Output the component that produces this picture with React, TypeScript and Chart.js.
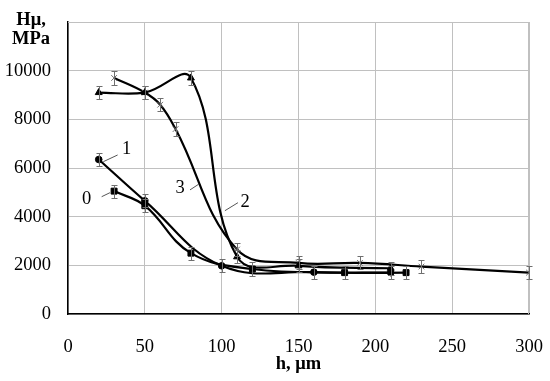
import React, { useEffect, useRef } from 'react';
import { Chart, registerables } from 'chart.js';

Chart.register(...registerables);

// Curve 0 (squares)
const h0 = [30, 50, 80, 120, 180, 220];
const hv0 = [5050, 4450, 2500, 1850, 1700, 1700];
const err0 = [270, 270, 270, 270, 270, 270];
// Curve 1 (circles)
const h1 = [20, 50, 100, 160, 210];
const hv1 = [6350, 4650, 1980, 1720, 1700];
const err1 = [270, 270, 270, 270, 270];
// Curve 2 (triangles)
const h2 = [20, 50, 80, 110, 150, 210];
const hv2 = [9100, 9100, 9700, 2350, 1980, 1880];
const err2 = [270, 270, 270, 270, 270, 270];
// Curve 3 (crosses)
const h3 = [30, 50, 60, 70, 110, 150, 190, 230, 300];
const hv3 = [9700, 9100, 8600, 7600, 2650, 2100, 2100, 1950, 1700];
const err3 = [270, 270, 270, 270, 270, 270, 270, 270, 270];

const xTicks = [0, 50, 100, 150, 200, 250, 300];
const yTicks = [0, 2000, 4000, 6000, 8000, 10000];
const xMax = 300;
const yMax = 12000;

const yTitleLines = ['Hμ,', 'MPa'];
const xTitle = 'h, μm';

// curve number labels with leader lines (in data units)
const curveNotes = [
  { text: '0', x: 12.2, y: 4715, x1: 21.9, y1: 4820, x2: 27.3, y2: 4985 },
  { text: '1', x: 38.2, y: 6780, x1: 23.0, y1: 6260, x2: 32.3, y2: 6535 },
  { text: '2', x: 115.2, y: 4615, x1: 102.1, y1: 4245, x2: 110.6, y2: 4575 },
  { text: '3', x: 72.9, y: 5180, x1: 79.4, y1: 5100, x2: 85.2, y2: 5340 },
];

const FONT = '"Liberation Serif", "Times New Roman", serif';

const pts = (xs: number[], ys: number[]) => xs.map((x, i) => ({ x, y: ys[i] }));
const errorSets = [err0, err1, err2, err3];

const framePlugin = {
  id: 'frame',
  beforeDatasetsDraw(chart: any) {
    const ctx = chart.ctx;
    const a = chart.chartArea;
    ctx.save();
    ctx.strokeStyle = '#c0c0c0';
    ctx.lineWidth = 1;
    ctx.beginPath();
    ctx.moveTo(a.left, Math.round(a.top) + 0.5);
    ctx.lineTo(a.right, Math.round(a.top) + 0.5);
    ctx.moveTo(Math.round(a.right) - 0.5, a.top);
    ctx.lineTo(Math.round(a.right) - 0.5, a.bottom);
    ctx.stroke();
    ctx.restore();
  },
};

const errorBarPlugin = {
  id: 'errorBars',
  afterDatasetsDraw(chart: any) {
    const ctx = chart.ctx;
    const xs = chart.scales.x;
    const ys = chart.scales.y;
    ctx.save();
    ctx.strokeStyle = '#6f6f6f';
    ctx.lineWidth = 1;
    chart.data.datasets.forEach((ds: any, di: number) => {
      const errs = errorSets[di];
      ds.data.forEach((p: any, i: number) => {
        const e = errs[i];
        const px = Math.round(xs.getPixelForValue(p.x)) + 0.5;
        const yt = Math.round(ys.getPixelForValue(p.y + e)) + 0.5;
        const yb = Math.round(ys.getPixelForValue(p.y - e)) + 0.5;
        ctx.beginPath();
        ctx.moveTo(px, yt);
        ctx.lineTo(px, yb);
        ctx.moveTo(px - 3, yt);
        ctx.lineTo(px + 3, yt);
        ctx.moveTo(px - 3, yb);
        ctx.lineTo(px + 3, yb);
        ctx.stroke();
      });
    });
    ctx.restore();
  },
};

const textPlugin = {
  id: 'texts',
  afterDraw(chart: any) {
    const ctx = chart.ctx;
    const xs = chart.scales.x;
    const ys = chart.scales.y;
    const area = chart.chartArea;
    ctx.save();
    ctx.fillStyle = '#000';
    ctx.font = `bold 18.5px ${FONT}`;
    ctx.textAlign = 'center';
    ctx.textBaseline = 'alphabetic';
    ctx.fillText(yTitleLines[0], 31, 25);
    ctx.fillText(yTitleLines[1], 31, 44);
    ctx.fillText(xTitle, (area.left + area.right) / 2, 369);
    ctx.font = `18.5px ${FONT}`;
    ctx.textBaseline = 'middle';
    ctx.strokeStyle = '#555';
    ctx.lineWidth = 1;
    curveNotes.forEach((n) => {
      ctx.fillText(n.text, xs.getPixelForValue(n.x), ys.getPixelForValue(n.y));
      ctx.beginPath();
      ctx.moveTo(xs.getPixelForValue(n.x1), ys.getPixelForValue(n.y1));
      ctx.lineTo(xs.getPixelForValue(n.x2), ys.getPixelForValue(n.y2));
      ctx.stroke();
    });
    ctx.restore();
  },
};

export default function App() {
  const ref = useRef<HTMLCanvasElement | null>(null);
  useEffect(() => {
    if (!ref.current) return;
    const common = {
      showLine: true,
      borderColor: '#000',
      borderWidth: 2.2,
      tension: 0.4,
      pointBackgroundColor: '#000',
      pointBorderColor: '#000',
      pointBorderWidth: 1,
      fill: false,
    };
    const chart = new Chart(ref.current, {
      type: 'scatter',
      data: {
        datasets: [
          { ...common, label: '0', data: pts(h0, hv0), pointStyle: 'rect', pointRadius: 4.2 },
          { ...common, label: '1', data: pts(h1, hv1), pointStyle: 'circle', pointRadius: 3.3 },
          { ...common, label: '2', data: pts(h2, hv2), pointStyle: 'triangle', pointRadius: 4 },
          {
            ...common,
            label: '3',
            data: pts(h3, hv3),
            pointStyle: 'crossRot',
            pointRadius: 4,
            pointBorderColor: '#6f6f6f',
            pointBackgroundColor: '#6f6f6f',
            pointBorderWidth: 1,
          },
        ] as any,
      },
      options: {
        animation: false,
        responsive: true,
        maintainAspectRatio: false,
        layout: { padding: { left: 0, top: 22, right: 21, bottom: 0 } },
        plugins: { legend: { display: false }, tooltip: { enabled: false } },
        scales: {
          x: {
            type: 'linear',
            min: 0,
            max: xMax,
            afterBuildTicks: (s: any) => {
              s.ticks = xTicks.map((v) => ({ value: v }));
            },
            afterFit: (s: any) => {
              s.height = 67;
              s.paddingLeft = 0;
              s.paddingRight = 0;
            },
            grid: { color: '#c0c0c0', lineWidth: 1, drawTicks: false },
            border: { color: '#000', width: 1.5 },
            ticks: {
              padding: 22,
              color: '#000',
              font: { family: FONT, size: 18.5 },
              maxRotation: 0,
            },
          },
          y: {
            type: 'linear',
            min: 0,
            max: yMax,
            afterBuildTicks: (s: any) => {
              s.ticks = [...yTicks, yMax].map((v) => ({ value: v }));
            },
            afterFit: (s: any) => {
              s.width = 68;
              s.paddingTop = 0;
              s.paddingBottom = 0;
            },
            grid: { color: '#c0c0c0', lineWidth: 1, drawTicks: false },
            border: { color: '#000', width: 1.5 },
            ticks: {
              padding: 17,
              color: '#000',
              font: { family: FONT, size: 18.5 },
              callback: (v: any) => (yTicks.includes(Number(v)) ? String(v) : ''),
            },
          },
        },
      } as any,
      plugins: [framePlugin, errorBarPlugin, textPlugin],
    });
    return () => chart.destroy();
  }, []);
  return (
    <div style={{ position: 'fixed', left: 0, top: 0, width: 550, height: 381, background: '#fff' }}>
      <canvas ref={ref} />
    </div>
  );
}
